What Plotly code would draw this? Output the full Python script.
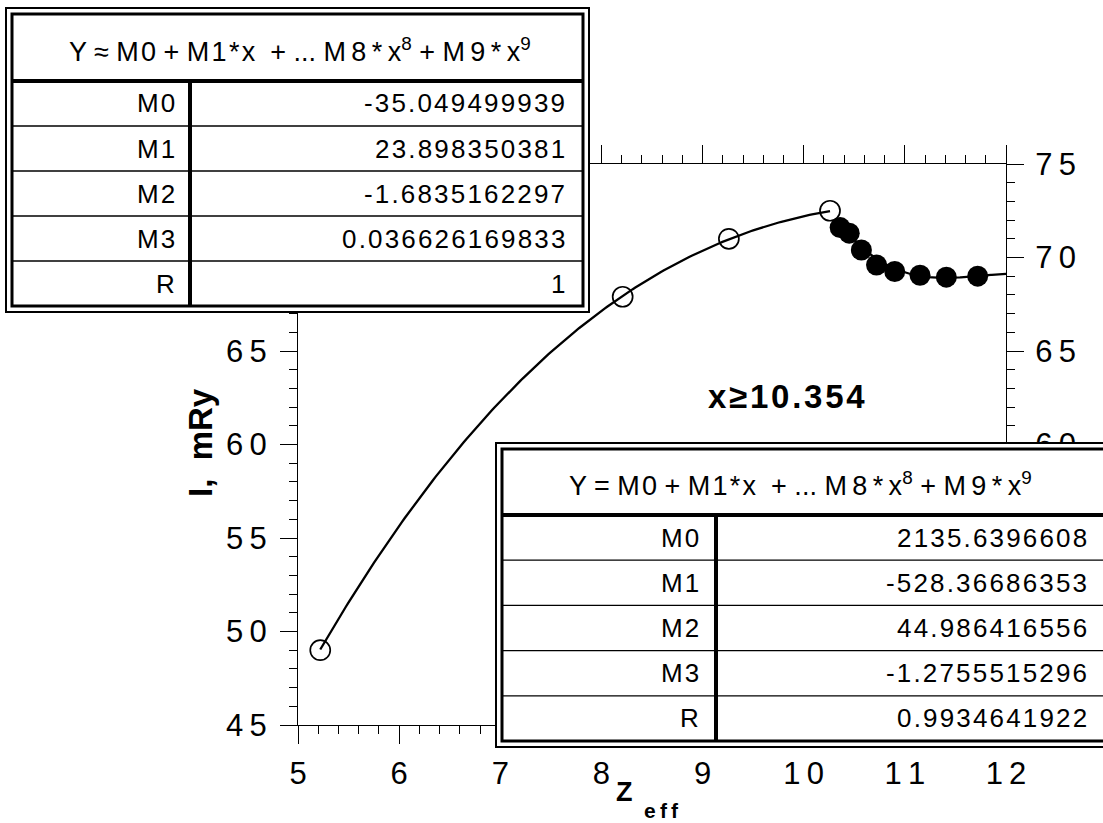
import numpy as np
import plotly.graph_objects as go

# measured points (Z_eff, I in mRy)
z_open = [5.22, 8.21, 9.26, 10.26]
i_open = [49.0, 67.9, 71.0, 72.5]
z_fill = [10.36, 10.45, 10.57, 10.72, 10.90, 11.15, 11.41, 11.72]
i_fill = [71.6, 71.3, 70.4, 69.6, 69.25, 69.05, 68.95, 69.0]

# cubic fit coefficients M0..M3 and correlation R, as printed
coef_names = ["M0", "M1", "M2", "M3", "R"]
fit_low_txt = ["-35.049499939", "23.898350381", "-1.6835162297", "0.036626169833", "1"]
fit_high_txt = ["2135.6396608", "-528.36686353", "44.986416556", "-1.2755515296", "0.9934641922"]
high_start = 10.354

x_ticks = [5, 6, 7, 8, 9, 10, 11, 12]
y_range = [45, 75]
# labelled ticks on each side (the rest sit under the two tables)
y_left_ticks = [45, 50, 55, 60, 65]
y_right_ticks = [60, 65, 70, 75]

FONT = "Liberation Sans"
THIN = "\u2009"
HAIR = "\u200a"


def spaced(s, sep=THIN):
    return sep.join(s)


def poly(coefs, x):
    c = [float(v) for v in coefs[:4]]
    return c[0] + c[1] * x + c[2] * x ** 2 + c[3] * x ** 3


# plot-area box in page pixels
L, R, T, B = 298, 1006, 164, 725
W, H = 1103, 823


def px(x):
    return (x - L) / (R - L)


def py(y):
    return (B - y) / (B - T)


xs1 = np.linspace(z_open[0], z_open[-1], 200)
xs2 = np.linspace(high_start, x_ticks[-1], 200)

fig = go.Figure()
fig.add_trace(go.Scatter(x=xs1, y=poly(fit_low_txt, xs1), mode="lines",
                         line=dict(color="black", width=2.3), hoverinfo="skip"))
fig.add_trace(go.Scatter(x=xs2, y=poly(fit_high_txt, xs2), mode="lines",
                         line=dict(color="black", width=2.3), hoverinfo="skip"))
fig.add_trace(go.Scatter(x=z_open, y=i_open, mode="markers",
                         marker=dict(symbol="circle-open", size=20, color="black",
                                     line=dict(width=1.7, color="black"))))
fig.add_trace(go.Scatter(x=z_fill, y=i_fill, mode="markers",
                         marker=dict(symbol="circle", size=21, color="black")))
# empty traces to carry the mirrored top and right axes
fig.add_trace(go.Scatter(x=[], y=[], xaxis="x2", yaxis="y"))
fig.add_trace(go.Scatter(x=[], y=[], xaxis="x", yaxis="y2"))

tickfont = dict(family=FONT, size=31, color="black")
xr = [x_ticks[0], x_ticks[-1]]

common_x = dict(range=xr, showline=True, linecolor="black", linewidth=1,
                ticks="outside", ticklen=18, tickwidth=1, tickcolor="black",
                tickvals=x_ticks, showgrid=False, zeroline=False,
                minor=dict(dtick=0.2, ticklen=8, tickwidth=1, tickcolor="black", ticks="outside"))
common_y = dict(range=y_range, showline=True, linecolor="black", linewidth=1,
                ticks="outside", ticklen=17, tickwidth=1, tickcolor="black",
                showgrid=False, zeroline=False,
                minor=dict(dtick=1, ticklen=8, tickwidth=1, tickcolor="black", ticks="outside"))

fig.update_layout(
    width=W, height=H,
    margin=dict(l=L, r=W - R, t=T, b=H - B),
    paper_bgcolor="white", plot_bgcolor="white",
    showlegend=False,
    xaxis=dict(common_x, ticktext=[spaced(str(v)) for v in x_ticks],
               tickfont=tickfont, ticklabelstandoff=3),
    xaxis2=dict(common_x, overlaying="x", side="top", showticklabels=False),
    yaxis=dict(common_y, tickvals=y_left_ticks,
               ticktext=[spaced(str(v)) for v in y_left_ticks],
               tickfont=tickfont, ticklabelstandoff=7),
    yaxis2=dict(common_y, overlaying="y", side="right", tickvals=y_right_ticks,
                ticktext=[spaced(str(v)) for v in y_right_ticks],
                tickfont=tickfont, ticklabelstandoff=5),
)

shapes = []
annots = []


def rect(x0, y0, x1, y1, w, fill=None):
    shapes.append(dict(type="rect", xref="paper", yref="paper", layer="above",
                       x0=px(x0), x1=px(x1), y0=py(y1), y1=py(y0),
                       line=dict(color="black", width=w),
                       fillcolor=fill if fill else "rgba(0,0,0,0)"))


def hline(x0, x1, y, w):
    shapes.append(dict(type="line", xref="paper", yref="paper", layer="above",
                       x0=px(x0), x1=px(x1), y0=py(y), y1=py(y),
                       line=dict(color="black", width=w)))


def vline(x, y0, y1, w):
    shapes.append(dict(type="line", xref="paper", yref="paper", layer="above",
                       x0=px(x), x1=px(x), y0=py(y0), y1=py(y1),
                       line=dict(color="black", width=w)))


def text(x, y, s, size=22, xanchor="center", bold=False, angle=0):
    annots.append(dict(xref="paper", yref="paper", x=px(x), y=py(y), text=s,
                       showarrow=False, xanchor=xanchor, yanchor="middle",
                       textangle=angle,
                       font=dict(family=FONT, size=size, color="black",
                                 weight="bold" if bold else "normal")))


def fit_table(x0, y0, x1, y1, div_x, head_y, header, values, label_right, value_right, head_x):
    rect(x0, y0, x1, y1, 2, fill="white")
    rect(x0 + 6, y0 + 6, x1 - 6, y1 - 6, 3)
    hline(x0 + 6, x1 - 6, head_y, 4)
    row_h = (y1 - 6 - head_y) / len(values)
    for k in range(1, len(values)):
        hline(x0 + 6, x1 - 6, head_y + k * row_h, 1.3)
    vline(div_x, head_y, y1 - 6, 4)
    text(head_x, (y0 + head_y) / 2 + 5, header, size=27)
    for k, (name, val) in enumerate(zip(coef_names, values)):
        yc = head_y + (k + 0.5) * row_h
        text(label_right, yc, spaced(name, HAIR), size=26, xanchor="right")
        text(value_right, yc, spaced(val, HAIR), size=26, xanchor="right")


def header(eq):
    return ("Y " + eq + " " + spaced("M0", HAIR) + " + " + spaced("M1*x", HAIR) + "  + ... "
            + spaced("M8") + THIN + "*" + THIN + "x<sup>8</sup> + "
            + spaced("M9") + THIN + "*" + THIN + "x<sup>9</sup>")


fit_table(6, 8, 589, 312, 190, 81, header("\u2248"), fit_low_txt, 177, 567, 300)
fit_table(496, 443, 1112, 747, 716, 515, header("="), fit_high_txt, 701, 1089, 800)

text(786, 396, spaced("x\u226510.354", HAIR), size=33, bold=True)
text(200, 443, "I,  mRy", size=33, bold=True, angle=-90)
text(624, 792, "Z", size=27, bold=True)
text(661, 810, spaced("eff"), size=21, bold=True)

fig.update_layout(shapes=shapes, annotations=annots)
fig.write_html("out.html")
